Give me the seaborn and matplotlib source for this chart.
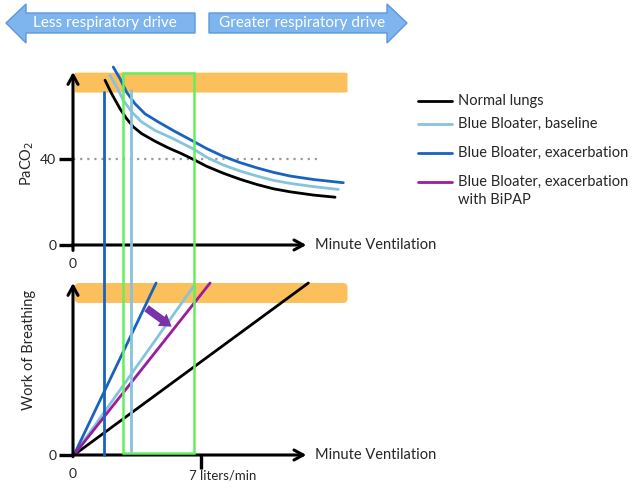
import numpy as np
import pandas as pd
import seaborn as sns
import matplotlib.pyplot as plt
from matplotlib.patches import Polygon, Rectangle, FancyBboxPatch
from matplotlib.lines import Line2D
from matplotlib.transforms import blended_transform_factory

# series names and colours
series = [
    "Normal lungs",
    "Blue Bloater, baseline",
    "Blue Bloater, exacerbation",
    "Blue Bloater, exacerbation\nwith BiPAP",
]
colors = ["#000000", "#86c3dd", "#1a62c0", "#9b1d9e"]

# top panel: PaCO2 vs minute ventilation (L/min)
normal_ve = [1.75, 2.11, 2.57, 2.93, 3.30, 3.75, 4.48, 5.21, 5.94, 6.62, 7.30, 8.21,
             9.13, 10.04, 10.95, 11.86, 13.13, 14.32]
normal_paco2 = [76.2, 70.0, 63.0, 58.4, 54.6, 51.5, 48.0, 44.9, 42.2, 39.4, 36.4, 33.2,
                30.4, 28.0, 26.0, 24.6, 23.1, 22.1]
baseline_ve = [2.02, 2.39, 2.75, 3.21, 3.75, 4.48, 5.39, 6.0, 6.62, 7.30, 8.21, 9.13,
               10.04, 10.95, 11.86, 13.13, 14.5]
baseline_paco2 = [78.5, 73.1, 66.9, 61.5, 56.9, 53.0, 49.5, 46.9, 44.2, 40.6, 37.0, 34.2,
                  31.9, 29.9, 28.5, 27.0, 25.7]
exac_ve = [2.20, 2.57, 2.93, 3.39, 3.93, 4.66, 5.57, 6.5, 7.30, 8.21, 9.13, 10.04,
           10.95, 11.86, 13.13, 14.77]
exac_paco2 = [82.3, 76.9, 70.7, 65.3, 60.7, 56.9, 52.5, 48.3, 44.6, 41.0, 38.1, 35.7,
              33.6, 31.9, 30.3, 28.8]

# bottom panel: work of breathing lines (start, end)
wob_ve = {
    series[0]: [0.05, 12.86],
    series[1]: [0.05, 6.58],
    series[2]: [0.05, 4.54],
    series[3]: [0.05, 7.49],
}
wob = {
    series[0]: [0.0, 10.0],
    series[1]: [0.0, 9.8],
    series[2]: [0.0, 10.0],
    series[3]: [0.0, 10.0],
}

# other features
normal_paco2_level = 40
dotted_end = 13.4
window_ve = [2.73, 6.63]          # green box, L/min
exac_vertical_ve = 1.67
baseline_vertical_ve = 3.18
band_ve = [0.1, 15.0]
band_paco2 = [70.5, 79.7]
band_wob = [8.84, 10.0]
bipap_shift = [(4.02, 8.53), (5.39, 7.46)]

top_df = pd.concat([
    pd.DataFrame({"ve": normal_ve, "paco2": normal_paco2, "series": series[0]}),
    pd.DataFrame({"ve": baseline_ve, "paco2": baseline_paco2, "series": series[1]}),
    pd.DataFrame({"ve": exac_ve, "paco2": exac_paco2, "series": series[2]}),
])
bot_df = pd.concat([
    pd.DataFrame({"ve": wob_ve[s], "wob": wob[s], "series": s}) for s in series
])
palette = dict(zip(series, colors))

sns.set_theme(style="white")
plt.rcParams["font.family"] = ["Lato", "DejaVu Sans"]

W, H = 640, 488
fig = plt.figure(figsize=(W / 100, H / 100), dpi=100)
px = 18.3  # pixels per L/min
x_max = 16
ax_top = fig.add_axes([73 / W, (H - 245) / H, x_max * px / W, 173 / H])
ax_bot = fig.add_axes([73 / W, (H - 455) / H, x_max * px / W, 172 / H])

for ax in (ax_top, ax_bot):
    ax.set_facecolor("none")
    for sp in ax.spines.values():
        sp.set_visible(False)
    ax.set_xlim(0, x_max)

ax_top.set_ylim(0, 80)
ax_bot.set_ylim(0, 10)

# orange bands
for ax, yb in ((ax_top, band_paco2), (ax_bot, band_wob)):
    ax.add_patch(FancyBboxPatch((band_ve[0], yb[0]), band_ve[1] - band_ve[0], yb[1] - yb[0],
                                boxstyle="round,pad=0,rounding_size=0.25", mutation_aspect=1.0,
                                fc="#fbbf5c", ec="none", clip_on=False, zorder=0))

ax_top.plot([0, dotted_end], [normal_paco2_level] * 2, ls=(0, (1, 2.2)), color="#9a9a9a",
            lw=1.6, zorder=1)

sns.lineplot(data=top_df, x="ve", y="paco2", hue="series", palette=palette, sort=False,
             legend=False, lw=2.0, ax=ax_top)
sns.lineplot(data=bot_df, x="ve", y="wob", hue="series", palette=palette, sort=False,
             legend=False, lw=2.0, ax=ax_bot)
for ax in (ax_top, ax_bot):
    for ln in ax.lines:
        ln.set_clip_on(False)
        ln.set_solid_joinstyle("round")

# axes arrows
arrow_kw = dict(arrowstyle="->,head_length=0.55,head_width=0.3", color="black",
                lw=2.2, shrinkA=0, shrinkB=0)
for ax, ytop, ybot in ((ax_top, 80, -2.5), (ax_bot, 10, -0.1)):
    ax.annotate("", xy=(12.75, 0), xytext=(-0.05, 0), arrowprops=arrow_kw,
                annotation_clip=False)
    ax.annotate("", xy=(0, ytop), xytext=(0, ybot), arrowprops=arrow_kw,
                annotation_clip=False)
    ax.text(13.2, 0, "Minute Ventilation", fontsize=10.5, va="center", ha="left")

# ticks
ax_top.set_yticks([0, normal_paco2_level])
ax_top.set_xticks([0])
ax_bot.set_yticks([0])
ax_bot.set_xticks([0, 7], ["0", ""])
for ax in (ax_top, ax_bot):
    ax.tick_params(axis="y", direction="out", length=10, width=2.4, color="black", left=True,
                   labelsize=10, pad=2)
    ax.tick_params(axis="x", direction="out", length=10, width=2.4, color="black", bottom=True,
                   labelsize=10, pad=-1)
    ax.grid(False)
ax_top.xaxis.get_major_ticks()[0].tick1line.set_visible(False)
ax_bot.xaxis.get_major_ticks()[0].tick1line.set_visible(False)
ax_bot.annotate("7 liters/min", xy=(7, 0), xytext=(-12, -20), textcoords="offset pixels",
                ha="left", va="center", fontsize=9.5, annotation_clip=False)

ax_top.set_xlabel("")
ax_bot.set_xlabel("")
ax_top.set_ylabel("PaCO$_2$", fontsize=10.5)
ax_bot.set_ylabel("Work of Breathing", fontsize=10.5)
ax_top.yaxis.set_label_coords(-0.125, 0.47)
ax_bot.yaxis.set_label_coords(-0.125, 0.61)

# elements crossing both panels
blend = blended_transform_factory(ax_bot.transData, fig.transFigure)
to_fig = fig.transFigure.inverted()


def fig_y(ax, y):
    return to_fig.transform(ax.transData.transform((0, y)))[1]


win_top = fig_y(ax_top, 79.7)
win_bot = fig_y(ax_bot, 0.12)
fig.add_artist(Rectangle((window_ve[0], win_bot), window_ve[1] - window_ve[0], win_top - win_bot,
                         transform=blend, fill=False, ec="#62f05c", lw=1.8, zorder=3))
fig.add_artist(Line2D([exac_vertical_ve] * 2, [fig_y(ax_bot, 0.0), fig_y(ax_top, 70.7)],
                      transform=blend, color=colors[2], lw=2.0, zorder=3))
fig.add_artist(Line2D([baseline_vertical_ve] * 2, [fig_y(ax_bot, 0.15), fig_y(ax_top, 71.5)],
                      transform=blend, color=colors[1], lw=2.0, zorder=3))

# BiPAP shift arrow
(x0, y0), (x1, y1) = bipap_shift
ax_bot.annotate("", xy=(x1, y1), xytext=(x0, y0),
                arrowprops=dict(arrowstyle="simple,head_length=0.7,head_width=0.9,tail_width=0.45",
                                fc="#7a32a8", ec="none", shrinkA=0, shrinkB=0))

# legend, drawn by hand so the two-line entry lines up with its first line
legend_rows = [101, 124, 153, 182]
for name, c, row in zip(series, colors, legend_rows):
    fig.add_artist(Line2D([418 / W, 452 / W], [1 - row / H] * 2, color=c, lw=2.0))
    fig.text(458 / W, 1 - (row - 7.5) / H, name, fontsize=10.5, ha="left", va="top",
             linespacing=1.45)

# respiratory drive banner arrows
ov = fig.add_axes([0, 0, 1, 1], zorder=-1)
ov.set_xlim(0, W)
ov.set_ylim(H, 0)
ov.axis("off")
left_arrow = [(6, 23), (26, 4), (26, 13), (195, 13), (195, 33), (26, 33), (26, 43)]
right_arrow = [(209, 13), (387, 13), (387, 4), (407, 23), (387, 43), (387, 33), (209, 33)]
for pts in (left_arrow, right_arrow):
    ov.add_patch(Polygon(pts, closed=True, fc="#7fb5ee", ec="#5d97dc", lw=1))
ov.text(105, 23, "Less respiratory drive", color="white", fontsize=11, ha="center", va="center")
ov.text(302, 23, "Greater respiratory drive", color="white", fontsize=11, ha="center", va="center")

fig.savefig("out.png", dpi=100)
